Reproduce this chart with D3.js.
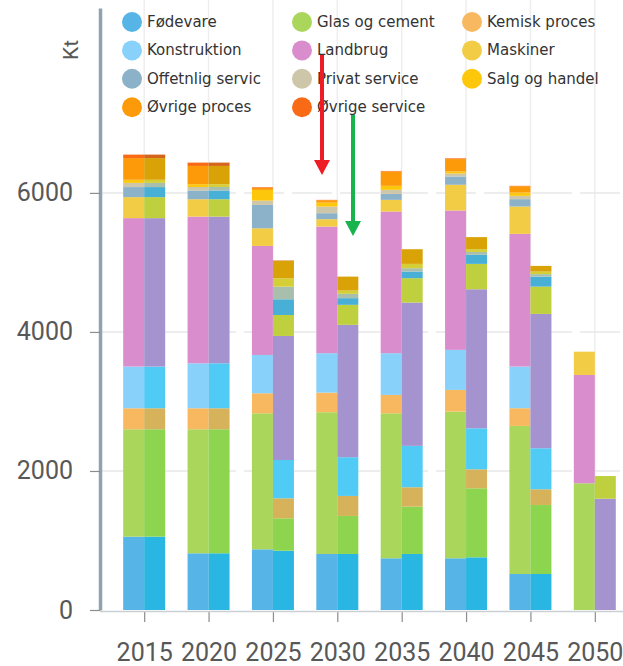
<!DOCTYPE html>
<html>
<head>
<meta charset="utf-8">
<script src="https://cdn.jsdelivr.net/npm/d3@7"></script>
<style>
  body { margin: 0; background: #fff; }
  svg { display: block; }
</style>
</head>
<body>
<svg id="chart" width="623" height="666"></svg>
<script>
// ---------- data ----------
const years = [2015, 2020, 2025, 2030, 2035, 2040, 2045, 2050];

const categories = [
  "Fødevare", "Glas og cement", "Kemisk proces",
  "Konstruktion", "Landbrug", "Maskiner",
  "Offetnlig servic", "Privat service", "Salg og handel",
  "Øvrige proces", "Øvrige service"
];

// left bar of each year (one row per category, one value per year)
const valuesA = [
  [1055, 816, 873, 806, 744, 744, 518, 0],
  [1545, 1784, 1957, 2039, 2086, 2110, 2130, 1823],
  [302, 302, 288, 282, 264, 312, 255, 0],
  [600, 647, 551, 567, 600, 576, 599, 0],
  [2135, 2110, 1568, 1822, 2038, 2005, 1909, 1558],
  [302, 250, 254, 106, 168, 370, 393, 335],
  [145, 126, 336, 86, 86, 120, 106, 0],
  [60, 50, 62, 95, 58, 42, 48, 0],
  [45, 40, 154, 58, 58, 30, 48, 0],
  [312, 263, 28, 34, 206, 178, 90, 0],
  [50, 48, 10, 5, 8, 10, 6, 0]
];

// right bar of each year
const valuesB = [
  [1055, 816, 853, 806, 806, 758, 518, 0],
  [1545, 1784, 466, 547, 681, 993, 993, 0],
  [302, 302, 288, 288, 279, 273, 226, 0],
  [600, 647, 551, 557, 595, 590, 590, 0],
  [2135, 2110, 1784, 1904, 2062, 2000, 1932, 1601],
  [302, 250, 302, 288, 350, 365, 393, 326],
  [145, 126, 226, 96, 96, 130, 144, 0],
  [60, 50, 181, 62, 48, 42, 36, 0],
  [45, 40, 120, 47, 62, 40, 36, 0],
  [312, 263, 253, 201, 211, 173, 82, 0],
  [50, 48, 5, 0, 0, 0, 0, 0]
];

const colorsA = [
  "#56b4e6", "#a9d65b", "#f8b860", "#88d1fb", "#d98dcc", "#f2cc44",
  "#8bb2c8", "#cdc6a8", "#fdc80b", "#fd9a0a", "#f86a15"
];
const colorsB = [
  "#2ab6e2", "#8dd54e", "#d6b35a", "#50cbf5", "#a593cf", "#bfd03e",
  "#48afd6", "#a8bfae", "#d4cf36", "#d9a206", "#d4651a"
];

const yTicks = [0, 2000, 4000, 6000];

// ---------- setup ----------
const svg = d3.select("#chart");

const x = d3.scalePoint()
  .domain(years)
  .range([112, 627])
  .padding(0.5);

const side = d3.scaleBand()
  .domain(["A", "B"])
  .range([-21, 21]);

const y = d3.scaleLinear()
  .domain([0, 8660])
  .range([610, 8]);

function toRows(values) {
  return years.map((yr, i) => {
    const row = { year: yr };
    categories.forEach((c, k) => { row[c] = values[k][i]; });
    return row;
  });
}

const stack = d3.stack().keys(categories);
const scenarios = [
  { key: "A", series: stack(toRows(valuesA)), colors: colorsA },
  { key: "B", series: stack(toRows(valuesB)), colors: colorsB }
];

// ---------- grid ----------
svg.append("g")
  .selectAll("line")
  .data(years)
  .enter()
  .append("line")
  .attr("x1", d => x(d))
  .attr("x2", d => x(d))
  .attr("y1", 0)
  .attr("y2", y(0))
  .attr("stroke", "#eeeeee")
  .attr("stroke-width", 1.5);

svg.append("g")
  .selectAll("line")
  .data(yTicks.slice(1))
  .enter()
  .append("line")
  .attr("x1", 100)
  .attr("x2", 623)
  .attr("y1", d => y(d))
  .attr("y2", d => y(d))
  .attr("stroke", "#e8e8e8")
  .attr("stroke-width", 1.5)
  .attr("stroke-dasharray", "40,8");

// ---------- bars ----------
scenarios.forEach(sc => {
  svg.append("g")
    .selectAll("g")
    .data(sc.series)
    .enter()
    .append("g")
    .attr("fill", (d, i) => sc.colors[i])
    .selectAll("rect")
    .data(d => d)
    .enter()
    .append("rect")
    .attr("x", d => x(d.data.year) + side(sc.key))
    .attr("width", side.bandwidth())
    .attr("y", d => y(d[1]))
    .attr("height", d => y(d[0]) - y(d[1]));
});

// ---------- axes ----------
const yAxis = svg.append("g")
  .attr("transform", "translate(100,0)")
  .call(d3.axisLeft(y)
    .tickValues(yTicks)
    .tickFormat(d3.format("d"))
    .tickSize(10)
    .tickSizeOuter(0)
    .tickPadding(17));

yAxis.select(".domain")
  .attr("stroke", "#8fa3ae")
  .attr("stroke-width", 3.5);
yAxis.selectAll(".tick line").attr("stroke", "#8c8c8c").attr("stroke-width", 1.2);
yAxis.selectAll("text")
  .attr("fill", "#585858")
  .style("font-family", "Roboto, sans-serif")
  .style("font-size", "25px");

const xAxis = svg.append("g")
  .attr("transform", "translate(0,612)")
  .call(d3.axisBottom(x).tickSize(10).tickSizeOuter(0).tickPadding(21));

xAxis.select(".domain").remove();
xAxis.selectAll(".tick line").attr("stroke", "#8c8c8c").attr("stroke-width", 1.2);
xAxis.selectAll("text")
  .attr("fill", "#585858")
  .style("font-family", "Roboto, sans-serif")
  .style("font-size", "25px");

svg.append("line")
  .attr("x1", 100)
  .attr("x2", 623)
  .attr("y1", y(0) + 1.5)
  .attr("y2", y(0) + 1.5)
  .attr("stroke", "#c9cfd2")
  .attr("stroke-width", 1.5);

svg.append("text")
  .attr("transform", "translate(78,50) rotate(-90)")
  .attr("text-anchor", "middle")
  .attr("fill", "#585858")
  .style("font-family", "Roboto, sans-serif")
  .style("font-size", "21px")
  .text("Kt");

// ---------- legend ----------
const legend = svg.append("g")
  .selectAll("g")
  .data(categories)
  .enter()
  .append("g")
  .attr("transform", (d, i) => `translate(${132 + (i % 3) * 170},${22 + Math.floor(i / 3) * 28.4})`);

legend.append("circle")
  .attr("r", 10)
  .attr("fill", (d, i) => colorsA[i]);

legend.append("text")
  .attr("x", 15)
  .attr("y", 5)
  .attr("fill", "#333")
  .style("font-family", "'DejaVu Sans', sans-serif")
  .style("font-size", "15px")
  .text(d => d);

// ---------- arrows ----------
function arrow(xPos, top, tip, color) {
  svg.append("line")
    .attr("x1", xPos)
    .attr("x2", xPos)
    .attr("y1", top)
    .attr("y2", tip - 12)
    .attr("stroke", color)
    .attr("stroke-width", 4);
  svg.append("path")
    .attr("d", `M${xPos - 8},${tip - 15}L${xPos + 8},${tip - 15}L${xPos},${tip}Z`)
    .attr("fill", color);
}
arrow(322, 55, 175, "#ee1c25");
arrow(353, 115, 236, "#17b34d");
</script>
</body>
</html>
